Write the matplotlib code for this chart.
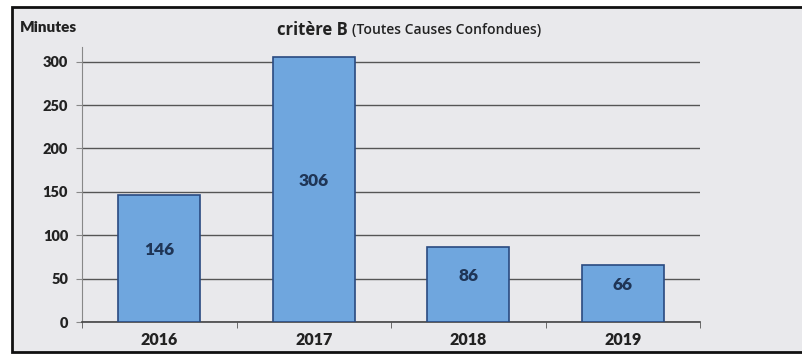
import matplotlib.pyplot as plt
from matplotlib.patches import Rectangle
import numpy as np

# ---- data ----
years = ["2016", "2017", "2018", "2019"]
minutes = [146, 306, 86, 66]
y_ticks = [0, 50, 100, 150, 200, 250, 300]

plt.rcParams['font.family'] = ['Lato', 'DejaVu Sans']

fig = plt.figure(figsize=(8.03, 3.55), dpi=100)
fig.patch.set_facecolor('white')

# chart frame (light gray panel with black border), drawn behind the axes
frame = Rectangle((12 / 803, 3 / 355), 800 / 803, 345 / 355, transform=fig.transFigure,
                  facecolor='#e9e9ec', edgecolor='#111111', linewidth=2, zorder=-10)
fig.patches.append(frame)

ax = fig.add_axes([82 / 803, 33 / 355, 618 / 803, 275 / 355])
ax.set_facecolor('none')
ax.set_zorder(1)

x = np.arange(len(years))
bars = ax.bar(x, minutes, width=0.53, color='#6fa6de', edgecolor='#2a4a80', linewidth=1.2, zorder=3)

for xi, v in zip(x, minutes):
    ax.annotate(str(v), (xi, v / 2), xytext=(0, 6), textcoords='offset points',
                ha='center', va='center', fontsize=12.5, fontweight='heavy', color='#1f3556', zorder=4)

ax.set_xlim(-0.5, len(years) - 0.5)
ax.set_ylim(0, 317)
ax.set_yticks(y_ticks)
ax.set_yticklabels([str(t) for t in y_ticks], fontsize=10.5, fontweight='heavy', color='#222222')
ax.yaxis.grid(True, color='#555555', linewidth=1.0, zorder=1)
ax.set_axisbelow(True)

ax.set_xticks(x)
ax.set_xticklabels(years, fontsize=11.5, fontweight='heavy', color='#222222')
ax.tick_params(axis='x', length=0, pad=7)
ax.set_xticks(np.arange(len(years) + 1) - 0.5, minor=True)
ax.tick_params(axis='x', which='minor', length=4, color='#555555')
ax.tick_params(axis='y', length=4, color='#888888', pad=6)

for side in ['top', 'right']:
    ax.spines[side].set_visible(False)
ax.spines['left'].set_color('#888888')
ax.spines['bottom'].set_color('#444444')
ax.spines['bottom'].set_linewidth(1.2)

fig.text(20 / 803, 1 - 28 / 355, "Minutes", fontsize=11, fontweight='heavy', color='#222222',
         va='center', ha='left')
fig.text(348 / 803, 1 - 30 / 355, "critère B", fontsize=12, fontweight='bold', color='#222222',
         va='center', ha='right', family=['Open Sans', 'DejaVu Sans'])
fig.text(352 / 803, 1 - 30 / 355, "(Toutes Causes Confondues)", fontsize=10, fontweight='semibold',
         color='#222222', va='center', ha='left', family=['Open Sans', 'DejaVu Sans'])

fig.savefig("out.png", dpi=100)
